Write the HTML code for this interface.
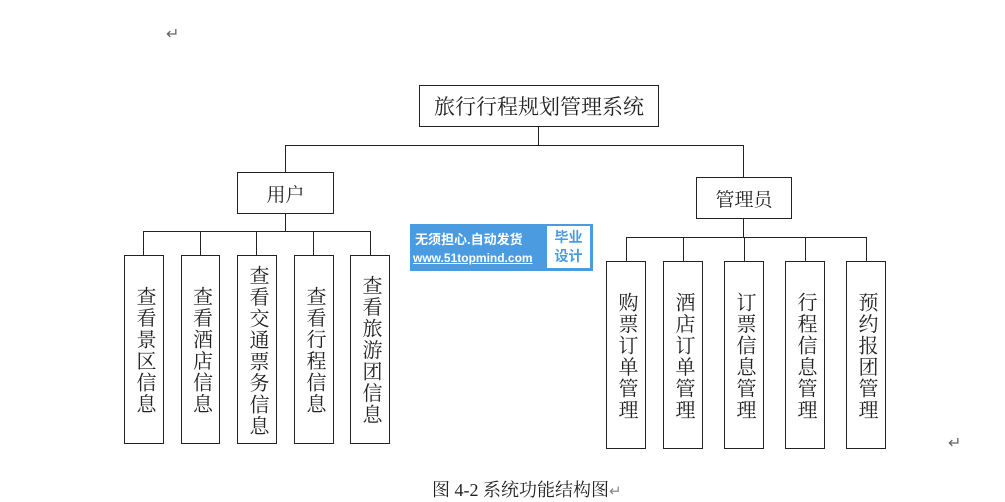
<!DOCTYPE html>
<html><head><meta charset="utf-8"><style>
body{margin:0;width:1005px;height:496px;background:#fff;overflow:hidden;position:relative;font-family:"Liberation Serif","Noto Serif CJK SC",serif;}
.b{position:absolute;border:1.3px solid #222;box-sizing:border-box;background:#fff;color:#222;display:flex;align-items:center;justify-content:center;}
.v{writing-mode:vertical-rl;font-size:20px;letter-spacing:1.5px;line-height:1;padding-top:2px;}
.h{font-size:19px;}
.l{position:absolute;background:#222;}
.t{position:absolute;color:#666;font-size:16px;}
</style></head><body>
<div class="t" style="left:166px;top:24px;">↵</div>
<div class="t" style="left:948px;top:433px;">↵</div>
<div class="l" style="left:285px;top:145px;width:459px;height:1.3px"></div>
<div class="l" style="left:538px;top:126px;width:1.3px;height:20px"></div>
<div class="l" style="left:285px;top:145px;width:1.3px;height:28px"></div>
<div class="l" style="left:743px;top:145px;width:1.3px;height:33px"></div>
<div class="l" style="left:285px;top:212px;width:1.3px;height:19px"></div>
<div class="l" style="left:143px;top:231px;width:228px;height:1.3px"></div>
<div class="l" style="left:143px;top:231px;width:1.3px;height:25px"></div>
<div class="l" style="left:200px;top:231px;width:1.3px;height:25px"></div>
<div class="l" style="left:256px;top:231px;width:1.3px;height:25px"></div>
<div class="l" style="left:313px;top:231px;width:1.3px;height:25px"></div>
<div class="l" style="left:370px;top:231px;width:1.3px;height:25px"></div>
<div class="l" style="left:743px;top:217px;width:1.3px;height:20px"></div>
<div class="l" style="left:626px;top:237px;width:241px;height:1.3px"></div>
<div class="l" style="left:626px;top:237px;width:1.3px;height:25px"></div>
<div class="l" style="left:683px;top:237px;width:1.3px;height:25px"></div>
<div class="l" style="left:744px;top:237px;width:1.3px;height:25px"></div>
<div class="l" style="left:805px;top:237px;width:1.3px;height:25px"></div>
<div class="l" style="left:866px;top:237px;width:1.3px;height:25px"></div>
<div class="b h" style="left:419px;top:85px;width:240px;height:42px;font-size:21px;">旅行行程规划管理系统</div>
<div class="b h" style="left:237px;top:172px;width:97px;height:42px;">用户</div>
<div class="b h" style="left:696px;top:177px;width:96px;height:42px;">管理员</div>
<div class="b v" style="left:124px;top:255px;width:40px;height:189px;">查看景区信息</div>
<div class="b v" style="left:181px;top:255px;width:39px;height:189px;">查看酒店信息</div>
<div class="b v" style="left:237px;top:255px;width:40px;height:189px;">查看交通票务信息</div>
<div class="b v" style="left:294px;top:255px;width:40px;height:189px;">查看行程信息</div>
<div class="b v" style="left:350px;top:255px;width:40px;height:189px;">查看旅游团信息</div>
<div class="b v" style="left:606px;top:261px;width:40px;height:188px;">购票订单管理</div>
<div class="b v" style="left:663px;top:261px;width:40px;height:188px;">酒店订单管理</div>
<div class="b v" style="left:724px;top:261px;width:40px;height:188px;">订票信息管理</div>
<div class="b v" style="left:785px;top:261px;width:40px;height:188px;">行程信息管理</div>
<div class="b v" style="left:846px;top:261px;width:40px;height:188px;">预约报团管理</div>
<div style="position:absolute;left:410px;top:224px;width:183px;height:47px;background:#4a9be0;font-family:'Liberation Sans','Noto Sans CJK SC',sans-serif;">
<div style="position:absolute;left:5px;top:5px;color:#fff;font-size:13px;font-weight:bold;">无须担心.自动发货</div>
<div style="position:absolute;left:3px;top:27px;color:#fff;font-size:12px;font-weight:bold;text-decoration:underline;">www.51topmind.com</div>
<div style="position:absolute;left:137px;top:2px;width:43px;height:42px;background:#fff;color:#4a9be0;font-size:14px;font-weight:bold;line-height:19px;text-align:center;padding-top:2px;box-sizing:border-box;">毕业<br>设计</div>
</div>
<div style="position:absolute;left:432px;top:476px;font-size:18px;color:#222;">图 4-2 系统功能结构图<span style="color:#888;font-size:15px">↵</span></div>
</body></html>
